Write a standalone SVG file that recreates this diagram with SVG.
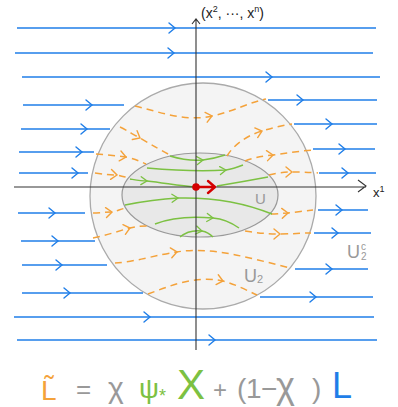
<svg xmlns="http://www.w3.org/2000/svg" width="398" height="407" viewBox="0 0 398 407">
<style>
.blue{stroke:#1f7ee8;stroke-width:1.6;fill:none;marker-mid:url(#bch)}
.orng{stroke:#f4a23a;stroke-width:1.5;fill:none;stroke-dasharray:7 5;marker-mid:url(#och)}
.grn{stroke:#7cc142;stroke-width:1.5;fill:none;marker-mid:url(#gch)}
.axis{stroke:#333;stroke-width:1.1;fill:none}
.lbl{font-family:"Liberation Sans",Arial,sans-serif;fill:#999}
.f{font-family:"Liberation Sans",Arial,sans-serif}
</style>
<defs>
<marker id="bch" markerUnits="userSpaceOnUse" orient="auto" markerWidth="20" markerHeight="20" refX="10" refY="10" viewBox="0 0 20 20" overflow="visible">
<path d="M4,5 L10,10 L4,15" fill="none" stroke="#1f7ee8" stroke-width="1.4" stroke-linecap="round"/>
</marker>
<marker id="och" markerUnits="userSpaceOnUse" orient="auto" markerWidth="20" markerHeight="20" refX="10" refY="10" viewBox="0 0 20 20" overflow="visible">
<path d="M4,5 L10,10 L4,15" fill="none" stroke="#f4a23a" stroke-width="1.4" stroke-linecap="round"/>
</marker>
<marker id="gch" markerUnits="userSpaceOnUse" orient="auto" markerWidth="20" markerHeight="20" refX="10" refY="10" viewBox="0 0 20 20" overflow="visible">
<path d="M4,6 L10,10 L4,14" fill="none" stroke="#7cc142" stroke-width="1.3" stroke-linecap="round"/>
</marker>
</defs>
<rect width="398" height="407" fill="#fff"/>

<g id="U2">
<circle cx="203" cy="196" r="113" fill="#f4f4f4" stroke="#aaa" stroke-width="1.3"/>
<text class="lbl" x="244" y="282" font-size="18">U<tspan font-size="11" dy="1">2</tspan></text>
</g>
<g id="U">
<ellipse cx="200" cy="195" rx="78" ry="42" fill="#e8e8e8" stroke="#999" stroke-width="1.2"/>
<text class="lbl" x="255" y="204" font-size="15">U</text>
</g>
<g id="U2c">
<text class="lbl" x="347" y="258" font-size="18">U</text>
<text class="lbl" x="361" y="250" font-size="10">c</text>
<text class="lbl" x="361" y="260" font-size="10">2</text>
</g>

<g id="connectors">
<!-- blue flow lines of L -->
<path class="blue" d="M17,28 L175,28 L376,28"/>
<path class="blue" d="M15,53 L174,53 L373,53"/>
<path class="blue" d="M22,77 L272,77 L380,77"/>
<path class="blue" d="M268,100 L303,100 L377,100"/>
<path class="blue" d="M23,105 L92,105 L124,105"/>
<path class="blue" d="M294,124 L332,124 L377,124"/>
<path class="blue" d="M21,129 L87,129 L110,129"/>
<path class="blue" d="M313,149 L345,149 L375,149"/>
<path class="blue" d="M19,152 L82,152 L94,152"/>
<path class="blue" d="M319,173 L348,173 L376,173"/>
<path class="blue" d="M19,173 L78,173 L88,173"/>
<path class="blue" d="M318,210 L342,210 L368,210"/>
<path class="blue" d="M18,213 L55,213 L85,213"/>
<path class="blue" d="M314,233 L338,233 L371,233"/>
<path class="blue" d="M21,241 L58,241 L95,241"/>
<path class="blue" d="M22,265 L62,265 L107,265"/>
<path class="blue" d="M295,269 L332,269 L368,269"/>
<path class="blue" d="M22,293 L70,293 L143,293"/>
<path class="blue" d="M260,297 L316,297 L373,297"/>
<path class="blue" d="M14,317 L150,317 L374,317"/>
<path class="blue" d="M17,340 L215,340 L377,340"/>

<!-- orange dashed flow lines of L~ -->
<path class="orng" d="M135,106 C160,112 185,122 212,116 C235,111 250,102 266,99"/>
<path class="orng" d="M120,127 C128,131 134,135 140,138 C152,145 162,151 172,156"/>
<path class="orng" d="M227,156 C233,146 245,136 262,131 C275,127 285,125 292,124"/>
<path class="orng" d="M96,154 C108,155 117,156 126,157 C134,159 140,161 146,164"/>
<path class="orng" d="M245,161 C252,158 262,156 273,155 C288,153 300,151 313,150"/>
<path class="orng" d="M95,173 C103,174 110,175 117,175 C122,176 125,177 129,178"/>
<path class="orng" d="M269,175 C276,173 284,172 292,172 C300,172 308,172 318,173"/>
<path class="orng" d="M93,213 C100,213 106,212 112,212 C117,211 121,209 126,208"/>
<path class="orng" d="M271,214 C278,214 283,213 288,213 C296,212 305,211 313,210"/>
<path class="orng" d="M93,238 C105,236 118,231 130,228 C138,226 144,226 150,226"/>
<path class="orng" d="M245,231 C258,233 268,234 280,234 C292,234 302,233 311,233"/>
<path class="orng" d="M115,263 C135,262 160,254 177,252 C210,246 250,258 290,268"/>
<path class="orng" d="M148,294 C170,286 195,275 223,281 C235,284 248,291 257,295"/>

<!-- green flow lines of psi_* X -->
<path class="grn" d="M170,156 C180,159 192,161 203,160 C212,159 219,157 225,155"/>
<path class="grn" d="M147,168 C170,170 195,172 226,170 C233,169 238,167 243,165"/>
<path class="grn" d="M130,179 C136,180 141,181 147,181 C165,183 180,186 195,187"/>
<path class="grn" d="M217,186 C235,183 252,180 268,177"/>
<path class="grn" d="M125,205 C140,202 160,199 178,198 C215,197 245,203 272,214"/>
<path class="grn" d="M155,224 C170,218 190,216 213,218 C225,219 232,223 239,228"/>
<path class="grn" d="M180,237 C186,232 194,230 202,231 C207,232 210,234 213,237"/>
</g>

<g id="axes">
<path class="axis" d="M14,187 L366,187 M358,180 L366,186 L358,192"/>
<path class="axis" d="M196,350 L196,19 M192,24 L196,19 L200,24"/>
<text class="f" x="373" y="197" font-size="13" fill="#222">x<tspan font-size="9" dy="-5">1</tspan></text>
<text class="f" x="201" y="18" font-size="14" fill="#222">(x<tspan font-size="9" dy="-6">2</tspan><tspan dy="6">, ···, x</tspan><tspan font-size="9" dy="-6">n</tspan><tspan dy="6">)</tspan></text>
</g>

<g id="origin">
<path d="M196,187 L214,187 M208,181 L215,187 L208,193" fill="none" stroke="#d40000" stroke-width="2.4" stroke-linecap="round" stroke-linejoin="round"/>
<circle cx="196" cy="187" r="3.8" fill="#d40000"/>
</g>

<g id="formula" class="f">
<text x="41" y="400" font-size="28" fill="#f4a23a">L̃</text>
<text x="76" y="398" font-size="26" fill="#999">=</text>
<text x="108" y="398" font-size="30" fill="#999">χ</text>
<text x="139" y="398" font-size="28" fill="#7cc142">ψ</text>
<text x="159" y="402" font-size="18" fill="#7cc142">*</text>
<text x="177" y="399" font-size="42" fill="#7cc142">X</text>
<text x="213" y="398" font-size="24" fill="#999">+</text>
<text y="398" font-size="28" fill="#999"><tspan x="237">(</tspan><tspan x="246">1</tspan><tspan x="261">−</tspan><tspan x="276" font-size="36">χ</tspan><tspan x="312">)</tspan></text>
<text x="332" y="398" font-size="36" fill="#1f7ee8">L</text>
</g>
</svg>
